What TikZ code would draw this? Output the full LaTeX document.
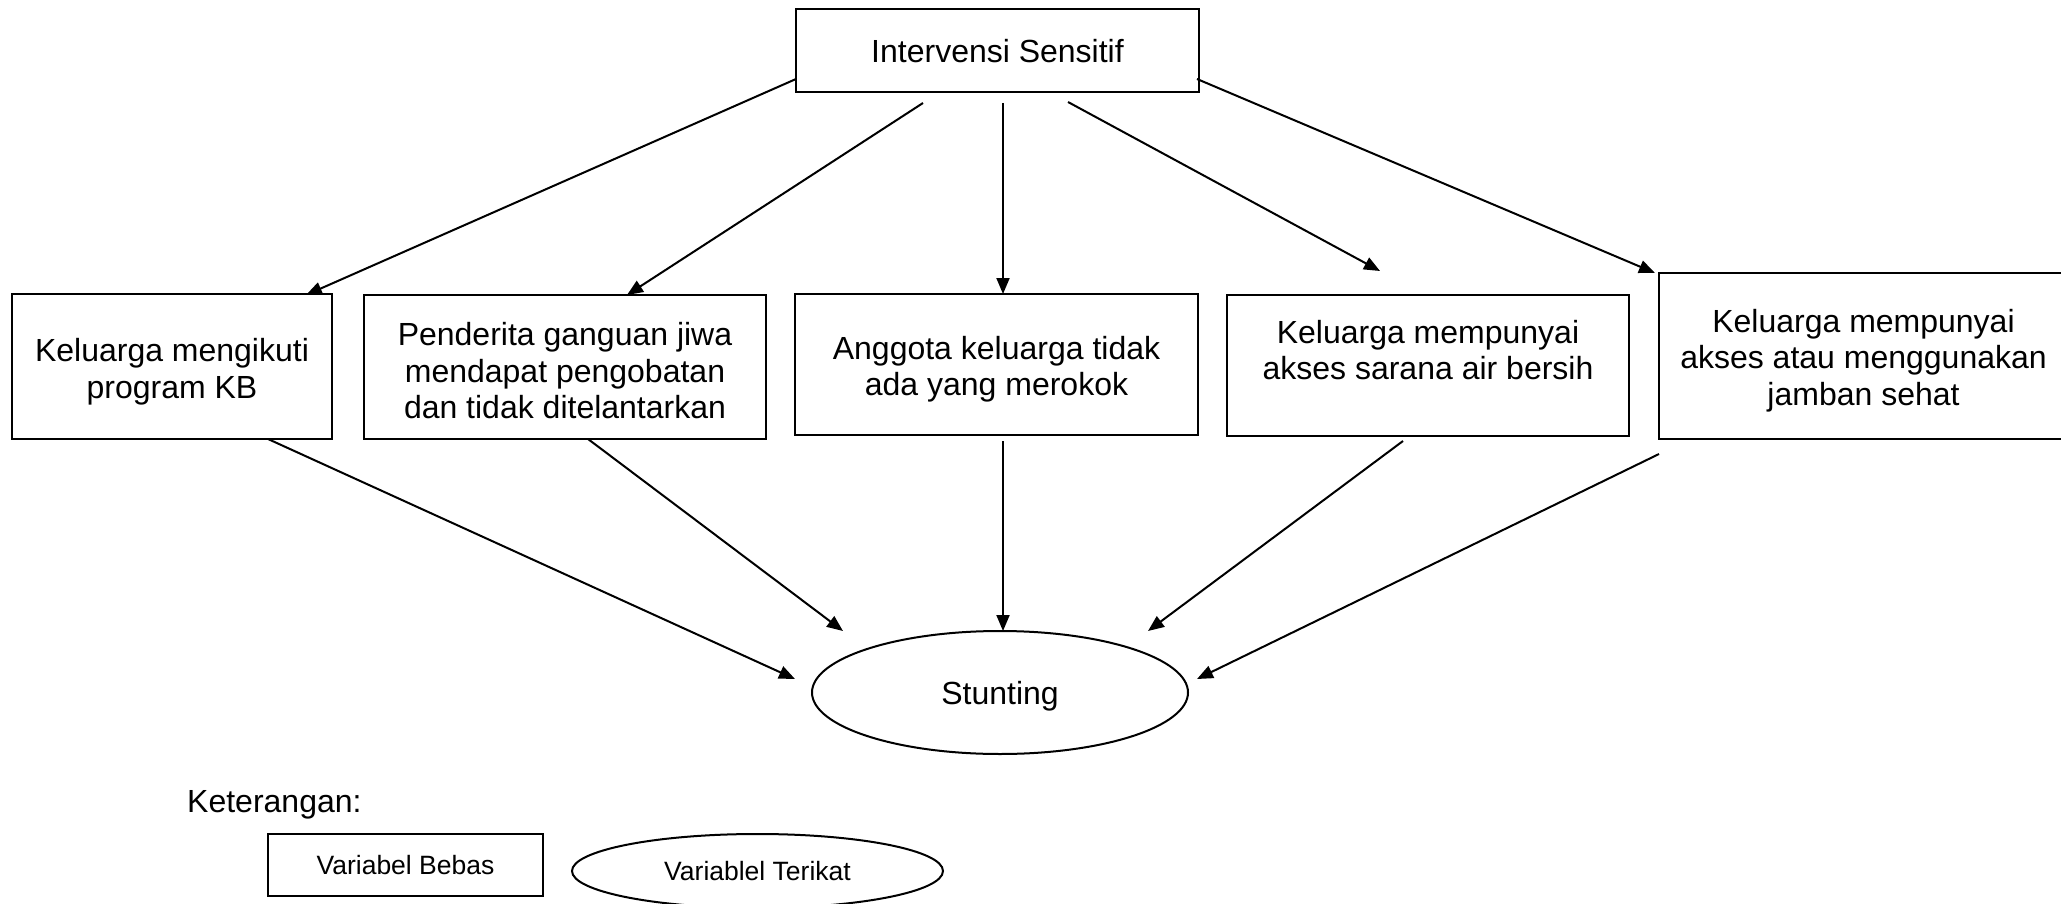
\documentclass[tikz,border=0pt]{standalone}
\usepackage{fontspec}
\setmainfont{Liberation Sans}
\usetikzlibrary{arrows.meta,shapes.geometric}
\begin{document}
\begin{tikzpicture}[x=1pt,y=-1pt,
  box/.style={draw, line width=2pt, rectangle, inner sep=0pt},
  oval/.style={draw, line width=2pt, ellipse, inner sep=0pt},
  txt/.style={inner sep=0pt, align=center, font=\fontsize{32}{36.5}\selectfont},
  small/.style={inner sep=0pt, align=center, font=\fontsize{26.5}{31}\selectfont},
  arr/.style={line width=2pt, -{Triangle[length=16pt,width=13pt]}}]
\useasboundingbox (0,0) rectangle (2061,904);
% main boxes
\node[box, minimum width=403pt, minimum height=83pt] (top) at (997.5,50.5) {};
\node[box, minimum width=320pt, minimum height=145pt] (b1) at (172,366.5) {};
\node[box, minimum width=402pt, minimum height=144pt] (b2) at (565,367) {};
\node[box, minimum width=403pt, minimum height=141pt] (b3) at (996.5,364.5) {};
\node[box, minimum width=402pt, minimum height=141pt] (b4) at (1428,365.5) {};
\node[box, minimum width=409pt, minimum height=166pt] (b5) at (1863.5,356) {};
\node[oval, minimum width=376pt, minimum height=123pt] (st) at (1000,692.5) {};
% texts
\node[txt] (topt) at (997.5,51.5) {Intervensi Sensitif};
\node[txt] (b1t) at (172,371.5) {Keluarga mengikuti\\program KB};
\node[txt] (b2t) at (565,371) {Penderita ganguan jiwa\\mendapat pengobatan\\dan tidak ditelantarkan};
\node[txt] (b3t) at (996.5,369) {Anggota keluarga tidak\\ada yang merokok};
\node[txt] (b4t) at (1428,350) {Keluarga mempunyai\\akses sarana air bersih};
\node[txt] (b5t) at (1863.5,360.5) {Keluarga mempunyai\\akses atau menggunakan\\jamban sehat};
\node[txt] (stt) at (1000,696) {Stunting};
% legend
\node[txt, anchor=base west] (ket) at (187,812) {Keterangan:};
\node[box, minimum width=275pt, minimum height=62pt] (lb) at (405.5,865) {};
\node[small] (lbt) at (405.5,865) {Variabel Bebas};
\node[oval, minimum width=371pt, minimum height=74pt] (le) at (757.5,871) {};
\node[small] (let) at (757.5,871) {Variablel Terikat};
% arrow end points
\coordinate (a1s) at (796,79);   \coordinate (a1e) at (306,295);
\coordinate (a2s) at (923,103);  \coordinate (a2e) at (627,295);
\coordinate (a3s) at (1003,103); \coordinate (a3e) at (1003,294);
\coordinate (a4s) at (1068,102); \coordinate (a4e) at (1380,271);
\coordinate (a5s) at (1197,79);  \coordinate (a5e) at (1655,273);
\coordinate (c1s) at (268,439);  \coordinate (c1e) at (795,679);
\coordinate (c2s) at (588,439);  \coordinate (c2e) at (843,631);
\coordinate (c3s) at (1003,441); \coordinate (c3e) at (1003,631);
\coordinate (c4s) at (1403,441); \coordinate (c4e) at (1148,631);
\coordinate (c5s) at (1659,454); \coordinate (c5e) at (1197,679);
% connectors
\draw[arr] (a1s) -- (a1e);
\draw[arr] (a2s) -- (a2e);
\draw[arr] (a3s) -- (a3e);
\draw[arr] (a4s) -- (a4e);
\draw[arr] (a5s) -- (a5e);
\draw[arr] (c1s) -- (c1e);
\draw[arr] (c2s) -- (c2e);
\draw[arr] (c3s) -- (c3e);
\draw[arr] (c4s) -- (c4e);
\draw[arr] (c5s) -- (c5e);
\end{tikzpicture}
\end{document}
